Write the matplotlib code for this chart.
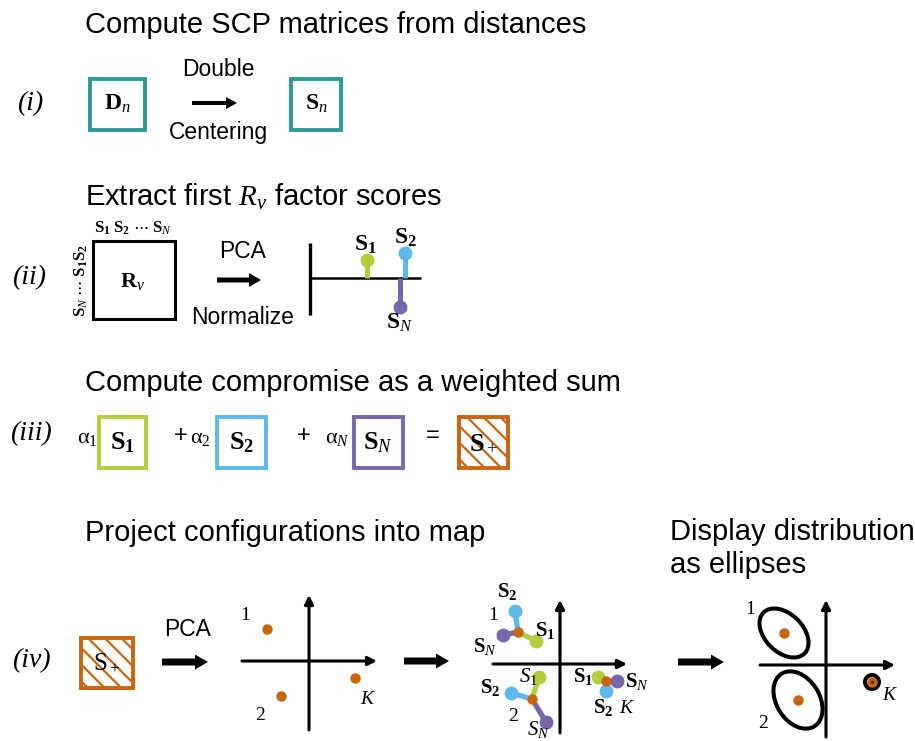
import matplotlib.pyplot as plt
from matplotlib.patches import Rectangle, Ellipse, FancyArrow

plt.rcParams['font.family'] = ['Liberation Sans', 'DejaVu Sans']
plt.rcParams['mathtext.fontset'] = 'custom'
plt.rcParams['mathtext.rm'] = 'Liberation Serif'
plt.rcParams['mathtext.it'] = 'Liberation Serif:italic'
plt.rcParams['mathtext.bf'] = 'Liberation Serif:bold'
plt.rcParams['hatch.linewidth'] = 1.6

W, H = 915, 741

# ---- data ----
titles = ['Compute SCP matrices from distances',
          r'Extract first $R_v$ factor scores',
          'Compute compromise as a weighted sum',
          'Project configurations into map']
steps = ['(i)', '(ii)', '(iii)', '(iv)']
src_labels = [r'$\mathbf{S}_\mathbf{1}$', r'$\mathbf{S}_\mathbf{2}$', r'$\mathbf{S}_N$']
weights = [r'$\mathrm{\alpha}_1$', r'$\mathrm{\alpha}_2$', r'$\mathrm{\alpha}_N$']

# first factor scores of the SCP matrices (stem plot in ii)
stem_pos = [5.7, 9.5, 9.0]
stem_val = [1.8, 2.5, -2.9]

# compromise factor scores for observations 1, 2, K
comp_x = [-4.2, -2.8, 4.6]
comp_y = [3.2, -3.5, -1.7]
point_names = ['1', '2', 'K']
# partial scores (offsets from compromise) per observation: S1, S2, SN
part_dx = [[1.8, -0.3, -1.5], [0.7, -2.1, 1.4], [-0.8, 0.0, 1.1]]
part_dy = [[-0.9, 2.1, -0.3], [2.2, 0.6, -2.3], [0.4, -1.0, 0.0]]
# confidence ellipses
ell_w = [5.8, 6.2, 1.4]
ell_h = [3.8, 4.3, 1.4]
ell_ang = [-45, -58, 0]

teal = '#2b9a97'
src_colors = ['#b3cd3e', '#5cb9ea', '#7866ad']
orange = '#c9640f'

fig = plt.figure(figsize=(W / 100, H / 100), dpi=100)
ax = fig.add_axes([0, 0, 1, 1])
ax.set_xlim(0, W)
ax.set_ylim(H, 0)
ax.axis('off')


def sub_axes(cx, cy, left, right, down, up, unit=10.0):
    a = fig.add_axes([(cx - left) / W, 1 - (cy + down) / H, (left + right) / W, (up + down) / H])
    a.set_xlim(-left / unit, right / unit)
    a.set_ylim(-down / unit, up / unit)
    a.axis('off')
    return a


def box(x0, y0, x1, y1, color, lw=2.8, hatch=None):
    ax.add_patch(Rectangle((x0, y0), x1 - x0, y1 - y0, fill=False, edgecolor=color,
                           lw=lw, hatch=hatch))


def arrow(x0, x1, y, width, hw, hl):
    ax.add_patch(FancyArrow(x0, y, x1 - x0, 0, width=width, head_width=hw, head_length=hl,
                            length_includes_head=True, color='k', lw=0))


serif = 'Liberation Serif'

# titles
for t, y in zip(titles, [25, 197, 383, 533]):
    ax.text(85, y, t, fontsize=21, va='center', ha='left')
ax.text(670, 532, 'Display distribution', fontsize=21, va='center', ha='left')
ax.text(670, 565, 'as ellipses', fontsize=21, va='center', ha='left')

for s, x, y in zip(steps, [17, 12, 10, 12], [104, 278, 434, 661]):
    ax.text(x, y, s, fontsize=20, family=serif, style='italic', va='center', ha='left')

# ---- (i) ----
box(90, 79, 145, 130, teal)
box(291, 79, 341, 130, teal)
ax.text(117.5, 104, r'$\mathbf{D}_n$', fontsize=17, ha='center', va='center')
ax.text(316, 104, r'$\mathbf{S}_n$', fontsize=17, ha='center', va='center')
arrow(192, 237, 103, 4, 12, 11)
ax.text(218, 70, 'Double', fontsize=16.5, ha='center', va='center')
ax.text(218, 132, 'Centering', fontsize=16.5, ha='center', va='center')

# ---- (ii) ----
box(92.5, 240.5, 174.5, 318.5, 'k', lw=2.2)
ax.text(133, 281, r'$\mathbf{R}_v$', fontsize=16, ha='center', va='center')
ax.text(133, 228, r'$\mathbf{S}_\mathbf{1}\ \mathbf{S}_\mathbf{2}\ \cdots\ \mathbf{S}_N$',
        fontsize=12, ha='center', va='center')
ax.text(81, 280, r'$\mathbf{S}_N\ \cdots\ \mathbf{S}_\mathbf{1}\mathbf{S}_\mathbf{2}$',
        fontsize=12, ha='center', va='center', rotation=90)
arrow(217, 261, 280, 5, 14, 12)
ax.text(243, 252, 'PCA', fontsize=16.5, ha='center', va='center')
ax.text(243, 317, 'Normalize', fontsize=16.5, ha='center', va='center')

sa = sub_axes(310, 278, 10, 120, 50, 50)
sa.plot([0, 0], [-3.7, 3.5], color='k', lw=2.4, solid_capstyle='butt')
sa.plot([0, 11.1], [0, 0], color='k', lw=1.8, solid_capstyle='butt')
for xp, v, c in zip(stem_pos, stem_val, src_colors):
    sa.plot([xp, xp], [0, v], color=c, lw=3.6, solid_capstyle='butt', zorder=2)
    sa.plot([xp], [v], 'o', color=c, ms=9, zorder=3)
for xp, v, lab in zip(stem_pos, stem_val, src_labels):
    off = 1.5 if v > 0 else -1.6
    sa.text(xp - (0.2 if v > 0 and xp < 7 else 0), v + off, lab, fontsize=17,
            ha='center', va='center')

# ---- (iii) ----
box_x = [(99, 146), (217, 266), (354, 403)]
wt_x = [87, 200, 337]
plus_x = [None, 181, 304]
for (x0, x1), c, lab, w, wx, px in zip(box_x, src_colors, src_labels, weights, wt_x, plus_x):
    box(x0, 417, x1, 468, c)
    ax.text((x0 + x1) / 2, 443, lab, fontsize=19, ha='center', va='center')
    ax.text(wx, 438, w, fontsize=16, ha='center', va='center')
    if px is not None:
        ax.text(px, 436, '+', fontsize=17, ha='center', va='center')
ax.text(433, 436, '=', fontsize=17, ha='center', va='center')
box(459, 417, 508, 468, orange, hatch='\\\\')
ax.text(483.5, 443, r'$\mathbf{S}_+$', fontsize=19, ha='center', va='center')

# ---- (iv) ----
box(81, 638, 133, 688, orange, hatch='\\\\')
ax.text(107, 662, r'$\mathrm{S}_+$', fontsize=18, ha='center', va='center')
ax.text(188, 630, 'PCA', fontsize=16.5, ha='center', va='center')
arrow(162, 208, 662, 7, 15, 13)
arrow(404, 449, 661, 7, 15, 13)
arrow(678, 724, 662, 7, 15, 13)


def map_axes(a, xl, xr, yd, yu):
    kw = dict(arrowstyle='-|>', lw=2.2, color='k', mutation_scale=13, shrinkA=0, shrinkB=0)
    a.annotate('', xy=(xr, 0), xytext=(xl, 0), arrowprops=kw)
    a.annotate('', xy=(0, yu), xytext=(0, yd), arrowprops=kw)


# map 1: compromise
m1 = sub_axes(309, 661, 90, 90, 85, 80)
map_axes(m1, -6.7, 6.8, -6.9, 6.6)
m1.plot(comp_x, comp_y, 'o', color=orange, ms=6.5, lw=0)
for (lx, ly), name in zip([(-6.4, 4.6), (-4.9, -5.4), (5.9, -3.9)], point_names):
    m1.text(lx, ly, '$' + name + '$' if name == 'K' else name, fontsize=14,
            family=serif, ha='center', va='center')

# map 2: partial factor scores
m2 = sub_axes(560, 664, 90, 90, 85, 80)
map_axes(m2, -6.7, 6.7, -6.9, 6.4)
for cx, cy, dxs, dys in zip(comp_x, comp_y, part_dx, part_dy):
    for dx, dy, c in zip(dxs, dys, src_colors):
        m2.plot([cx, cx + dx], [cy, cy + dy], color=c, lw=3.8, zorder=2,
                solid_capstyle='butt')
        m2.plot([cx + dx], [cy + dy], 'o', color=c, ms=9, zorder=3)
    m2.plot([cx], [cy], 'o', color=orange, ms=6.5, zorder=4)
m2_labels = [((-5.3, 7.2), src_labels[1]), ((-7.5, 1.8), src_labels[2]),
             ((-1.5, 3.4), src_labels[0]), ((-7.0, -2.3), src_labels[1]),
             ((-3.2, -1.2), r'$S_1$'), ((-2.2, -6.55), r'$S_N$'),
             ((2.3, -1.2), src_labels[0]), ((7.7, -1.7), src_labels[2]),
             ((4.3, -4.3), src_labels[1])]
for (lx, ly), lab in m2_labels:
    m2.text(lx, ly, lab, fontsize=15, ha='center', va='center')
for (lx, ly), name in zip([(-6.7, 4.9), (-4.7, -5.2), (6.7, -4.4)], point_names):
    m2.text(lx, ly, '$' + name + '$' if name == 'K' else name, fontsize=14,
            family=serif, ha='center', va='center')

# map 3: ellipses
m3 = sub_axes(826, 665, 90, 90, 85, 80)
map_axes(m3, -6.6, 6.9, -7.2, 6.5)
for cx, cy, w, h, ang in zip(comp_x, comp_y, ell_w, ell_h, ell_ang):
    m3.add_patch(Ellipse((cx, cy), w, h, angle=ang, fill=False, edgecolor='k', lw=2.9))
m3.plot(comp_x, comp_y, 'o', color=orange, ms=6.5, lw=0)
m3.plot([comp_x[2]], [comp_y[2]], 'o', color='#5a2a05', ms=1.5)
for (lx, ly), name in zip([(-7.6, 5.5), (-6.3, -5.8), (6.4, -3.0)], point_names):
    m3.text(lx, ly, '$' + name + '$' if name == 'K' else name, fontsize=14,
            family=serif, ha='center', va='center')

fig.savefig('out.png', dpi=100)
